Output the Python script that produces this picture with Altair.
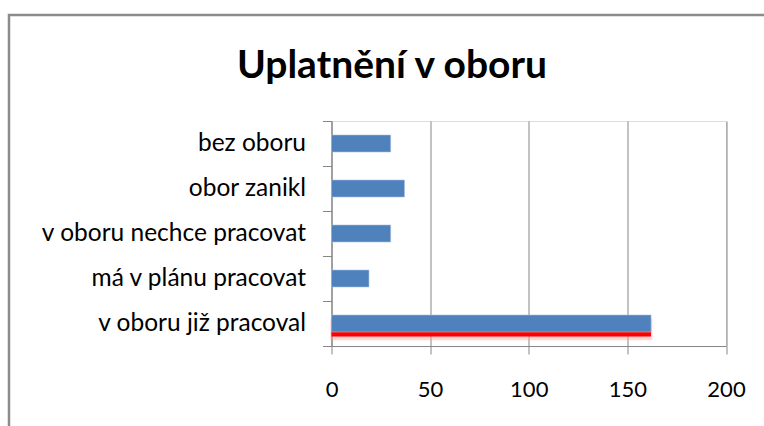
import altair as alt
import pandas as pd

# Survey answers and their counts
categories = [
    "bez oboru",
    "obor zanikl",
    "v oboru nechce pracovat",
    "má v plánu pracovat",
    "v oboru již pracoval",
]
counts = [30, 37, 30, 19, 162]
highlighted = ["v oboru již pracoval"]

x_ticks = [0, 50, 100, 150, 200]
title_text = "Uplatnění v oboru"

df = pd.DataFrame({"kategorie": categories, "pocet": counts})
df["zvyrazneno"] = df["kategorie"].isin(highlighted)

FONT = "Lato"
GRAY = "#868686"
BLUE = "#4F81BD"

PLOT_W = 394.5
PLOT_H = 225
PAD_L = 331.5
PAD_T = 121
BAR = 17
BAND = PLOT_H / len(categories)

x_enc = alt.X(
    "pocet:Q",
    scale=alt.Scale(domain=[0, 200], nice=False, zero=True),
    axis=alt.Axis(
        values=x_ticks,
        title=None,
        grid=True,
        gridColor=GRAY,
        gridWidth=1,
        domainColor=GRAY,
        tickColor=GRAY,
        tickSize=8,
        labelFont=FONT,
        labelFontSize=22,
        labelColor="#000000",
        labelPadding=25,
        labelFlush=False,
    ),
)
y_enc = alt.Y(
    "kategorie:N",
    sort=categories,
    scale=alt.Scale(paddingInner=0, paddingOuter=0),
    axis=alt.Axis(
        title=None,
        tickBand="extent",
        domainColor=GRAY,
        tickColor=GRAY,
        tickSize=9,
        labelFont=FONT,
        labelFontSize=24.5,
        labelColor="#000000",
        labelPadding=17,
        labelLimit=400,
    ),
)

# outer chart frame
frame = alt.Chart(pd.DataFrame({"a": [0]})).mark_rect(
    fill=None, stroke="#8c8c8c", strokeWidth=2.5
).encode(
    x=alt.value(9 - PAD_L),
    x2=alt.value(800 - PAD_L),
    y=alt.value(15 - PAD_T),
    y2=alt.value(460 - PAD_T),
)

title = alt.Chart(pd.DataFrame({"t": [title_text]})).mark_text(
    font=FONT, fontSize=39, fontWeight="bold", color="#000000",
    align="center", baseline="alphabetic",
).encode(
    text="t:N",
    x=alt.value(392 - PAD_L),
    y=alt.value(78 - PAD_T),
)

base = alt.Chart(df)
sel = base.transform_filter("datum.zvyrazneno")

# soft red glow and shadow under the highlighted bar
glow = sel.mark_bar(
    size=BAR + 2, color="#ff7070", opacity=0.4, stroke="#ffa0a0", strokeWidth=2.5
).encode(x=x_enc, y=y_enc, yOffset=alt.value(BAND / 2 + 6))

shadow = sel.mark_bar(size=BAR, color="#ff0000").encode(
    x=x_enc, y=y_enc, yOffset=alt.value(BAND / 2 + 4.5)
)

bars = base.mark_bar(size=BAR, color=BLUE, stroke="#a9c0de", strokeWidth=0.6).encode(
    x=x_enc, y=y_enc
)

chart = (
    alt.layer(frame, title, glow, shadow, bars)
    .properties(
        width=PLOT_W,
        height=PLOT_H,
        autosize=alt.AutoSizeParams(type="none"),
        padding={"left": PAD_L, "top": PAD_T, "right": 764 - PAD_L - PLOT_W, "bottom": 426 - PAD_T - PLOT_H},
    )
    .configure_view(stroke=None)
    .configure(background="#ffffff")
)

chart.save("out.html", embed_options={"renderer": "svg", "actions": False})
